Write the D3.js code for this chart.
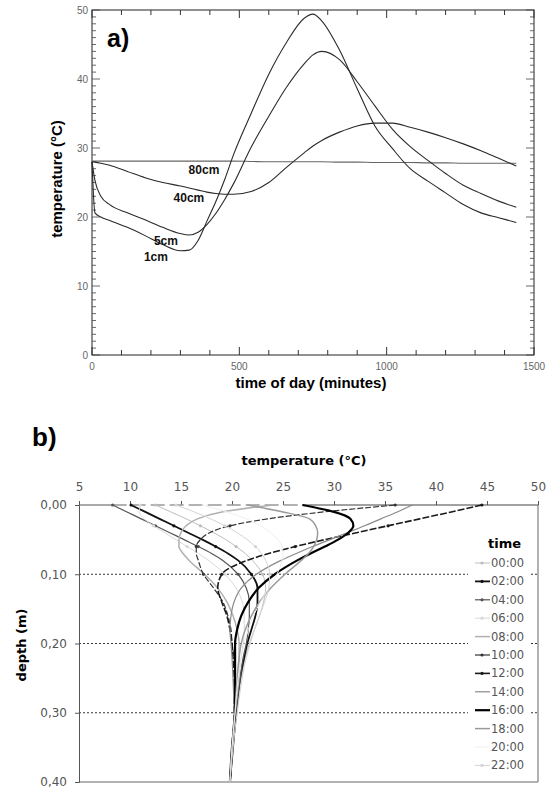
<!DOCTYPE html>
<html>
<head>
<meta charset="utf-8">
<script src="https://d3js.org/d3.v7.min.js"></script>
<style>
  body { margin: 0; background: #fff; }
  svg { display: block; }
</style>
</head>
<body>
<svg width="551" height="789"></svg>
<script>
// ---- panel a) : temperature vs time of day at 4 depths
var minutes = [0, 10, 30, 60, 120, 180, 240, 300, 330, 360, 390, 420, 450, 480, 540, 600, 660, 720, 750, 780, 840, 900, 960, 1020, 1080, 1140, 1200, 1260, 1320, 1380, 1440];
var temp1cm = [28.0, 20.6, 20.0, 19.5, 18.5, 17.3, 16.0, 15.1, 15.2, 16.6, 19.4, 22.2, 25.4, 29.0, 35.0, 40.7, 45.3, 48.8, 49.4, 48.4, 44.2, 38.6, 33.2, 29.9, 27.0, 25.2, 23.5, 21.8, 20.6, 19.9, 19.2];
var temp5cm = [28.0, 25.3, 23.0, 21.8, 20.6, 19.6, 18.5, 17.6, 17.4, 17.8, 18.9, 20.5, 22.5, 24.8, 30.1, 34.6, 38.8, 42.2, 43.5, 44.0, 42.8, 39.6, 36.1, 32.7, 30.2, 28.2, 26.3, 24.6, 23.4, 22.3, 21.4];
var temp40cm = [28.0, 27.95, 27.8, 27.5, 26.6, 25.7, 25.0, 24.5, 24.2, 23.9, 23.6, 23.4, 23.3, 23.3, 23.7, 25.0, 27.2, 29.3, 30.3, 31.1, 32.3, 33.2, 33.6, 33.6, 33.0, 32.3, 31.5, 30.6, 29.6, 28.5, 27.4];
var temp80cm = [28.1, 28.1, 28.1, 28.1, 28.1, 28.1, 28.1, 28.1, 28.1, 28.1, 28.1, 28.1, 28.1, 28.1, 28.05, 28.0, 28.0, 28.0, 28.0, 28.0, 27.95, 27.95, 27.9, 27.9, 27.9, 27.85, 27.85, 27.8, 27.8, 27.8, 27.8];
var depthNames = ["80cm", "40cm", "5cm", "1cm"];
var labelAt = [[380, 26.2], [329, 22.2], [251, 15.9], [217, 13.6]];

// ---- panel b) : temperature profiles with depth
var depth = [0, 0.01, 0.02, 0.03, 0.04, 0.05, 0.06, 0.07, 0.08, 0.10, 0.12, 0.14, 0.16, 0.18, 0.20, 0.22, 0.25, 0.30, 0.35, 0.40];
var hours = ["00:00", "02:00", "04:00", "06:00", "08:00", "10:00", "12:00", "14:00", "16:00", "18:00", "20:00", "22:00"];
var t00 = [12.5, 14.0, 15.5, 16.9, 18.2, 19.4, 20.4, 21.3, 22.0, 23.0, 23.3, 23.1, 22.7, 22.2, 21.7, 21.3, 20.9, 20.5, 20.1, 19.8];
var t02 = [10.1, 11.5, 12.9, 14.3, 15.7, 17.1, 18.4, 19.6, 20.6, 21.9, 22.5, 22.5, 22.3, 21.9, 21.5, 21.2, 20.8, 20.4, 20.1, 19.8];
var t04 = [8.3, 9.7, 11.1, 12.5, 13.9, 15.3, 16.7, 18.0, 19.1, 20.6, 21.4, 21.7, 21.7, 21.6, 21.4, 21.1, 20.8, 20.4, 20.1, 19.8];
var t06 = [11.0, 10.9, 11.4, 12.3, 13.4, 14.5, 15.6, 16.7, 17.7, 19.3, 20.4, 21.0, 21.2, 21.2, 21.1, 20.9, 20.7, 20.3, 20.0, 19.8];
var t08 = [24.0, 19.0, 16.6, 15.5, 15.0, 14.8, 14.8, 15.2, 15.8, 17.3, 18.6, 19.5, 20.1, 20.5, 20.7, 20.7, 20.6, 20.3, 20.0, 19.8];
var t10 = [36.0, 29.0, 23.5, 19.8, 17.8, 16.9, 16.5, 16.5, 16.7, 17.2, 18.2, 19.1, 19.6, 19.9, 20.0, 20.2, 20.3, 20.3, 20.0, 19.8];
var t12 = [44.5, 41.5, 38.4, 35.3, 32.2, 29.1, 26.2, 23.6, 21.5, 19.0, 18.6, 19.0, 19.5, 19.8, 20.0, 20.1, 20.2, 20.2, 20.0, 19.8];
var t14 = [37.7, 36.2, 34.6, 33.0, 31.3, 29.6, 27.9, 26.3, 24.8, 22.4, 20.9, 20.2, 19.9, 19.8, 19.9, 20.0, 20.1, 20.2, 20.0, 19.8];
var t16 = [26.9, 30.0, 31.6, 31.9, 31.4, 30.4, 29.1, 27.7, 26.4, 24.2, 22.6, 21.6, 20.9, 20.5, 20.3, 20.3, 20.3, 20.3, 20.0, 19.8];
var t18 = [21.5, 25.0, 27.6, 28.2, 28.4, 28.3, 28.0, 27.5, 26.8, 25.2, 23.8, 22.7, 21.9, 21.3, 20.9, 20.7, 20.5, 20.3, 20.0, 19.8];
var t20 = [17.0, 19.5, 21.4, 22.8, 23.8, 24.5, 24.9, 25.0, 24.9, 24.4, 23.6, 22.8, 22.1, 21.6, 21.2, 20.9, 20.6, 20.3, 20.0, 19.8];
var t22 = [14.5, 16.3, 17.9, 19.3, 20.5, 21.5, 22.3, 22.9, 23.3, 23.7, 23.6, 23.2, 22.7, 22.2, 21.8, 21.4, 21.0, 20.5, 20.1, 19.8];

var profiles = [t00, t02, t04, t06, t08, t10, t12, t14, t16, t18, t20, t22];
// line look per time
var styles = [
  {c: "#bdbdbd", w: 1,   dash: null,  mk: true},
  {c: "#111",    w: 1.8, dash: null,  mk: true},
  {c: "#555",    w: 1.2, dash: null,  mk: true},
  {c: "#d9d9d9", w: 1,   dash: null,  mk: true},
  {c: "#b0b0b0", w: 1.5, dash: null,  mk: false},
  {c: "#333",    w: 1.2, dash: "6,2", mk: true},
  {c: "#1a1a1a", w: 1.6, dash: "7,2", mk: true},
  {c: "#8a8a8a", w: 1.2, dash: null,  mk: false},
  {c: "#000",    w: 2.2, dash: null,  mk: false},
  {c: "#9a9a9a", w: 1.5, dash: null,  mk: false},
  {c: "#efefef", w: 1,   dash: null,  mk: false},
  {c: "#d4d4d4", w: 1,   dash: null,  mk: true}
];

var svg = d3.select("svg");

// ================= panel a =================
var xa = d3.scaleLinear().domain([0, 1500]).range([92, 534]);
var ya = d3.scaleLinear().domain([0, 50]).range([355, 10]);
var ga = svg.append("g");

ga.append("rect")
  .attr("x", xa(0)).attr("y", ya(50))
  .attr("width", xa(1500) - xa(0)).attr("height", ya(0) - ya(50))
  .attr("fill", "none").attr("stroke", "#222").attr("stroke-width", 1);

var xt = d3.range(0, 1501, 100);
ga.selectAll(".xtb").data(xt).join("line")
  .attr("x1", d => xa(d)).attr("x2", d => xa(d))
  .attr("y1", ya(0)).attr("y2", d => ya(0) - (d % 500 === 0 ? 8 : 5))
  .attr("stroke", "#333");
ga.selectAll(".xtt").data(xt).join("line")
  .attr("x1", d => xa(d)).attr("x2", d => xa(d))
  .attr("y1", ya(50)).attr("y2", d => ya(50) + (d % 500 === 0 ? 8 : 5))
  .attr("stroke", "#333");

var yt = d3.range(0, 51, 1);
ga.selectAll(".ytl").data(yt).join("line")
  .attr("y1", d => ya(d)).attr("y2", d => ya(d))
  .attr("x1", xa(0)).attr("x2", d => xa(0) + (d % 10 === 0 ? 8 : 4))
  .attr("stroke", "#444").attr("stroke-width", 0.8);
ga.selectAll(".ytr").data(yt).join("line")
  .attr("y1", d => ya(d)).attr("y2", d => ya(d))
  .attr("x1", xa(1500)).attr("x2", d => xa(1500) - (d % 10 === 0 ? 8 : 4))
  .attr("stroke", "#444").attr("stroke-width", 0.8);

ga.selectAll(".xl").data([0, 500, 1000, 1500]).join("text")
  .attr("x", d => xa(d)).attr("y", ya(0) + 15)
  .attr("text-anchor", "middle")
  .style("font", "10px 'Liberation Sans', Arial, sans-serif").attr("fill", "#666")
  .text(d => d);
ga.selectAll(".yl").data(d3.range(0, 51, 10)).join("text")
  .attr("x", xa(0) - 4).attr("y", d => ya(d) + 4)
  .attr("text-anchor", "end")
  .style("font", "10px 'Liberation Sans', Arial, sans-serif").attr("fill", "#666")
  .text(d => d);

var lineA = d3.line().x((d, i) => xa(minutes[i])).y(d => ya(d)).curve(d3.curveMonotoneX);
var seriesA = [temp80cm, temp40cm, temp5cm, temp1cm];
ga.selectAll(".ca").data(seriesA).join("path")
  .attr("d", lineA)
  .attr("fill", "none")
  .attr("stroke", (d, i) => i === 0 ? "#666" : "#2a2a2a")
  .attr("stroke-width", 1.1);

ga.selectAll(".la").data(depthNames).join("text")
  .attr("x", (d, i) => xa(labelAt[i][0])).attr("y", (d, i) => ya(labelAt[i][1]))
  .attr("text-anchor", "middle")
  .style("font", "bold 12px 'Liberation Sans', Arial, sans-serif").attr("fill", "#111")
  .text(d => d);

ga.append("text").attr("x", 107).attr("y", 47)
  .style("font", "bold 25px 'Liberation Sans', Arial, sans-serif").text("a)");
ga.append("text").attr("x", 311).attr("y", 388).attr("text-anchor", "middle")
  .style("font", "bold 15px 'Liberation Sans', Arial, sans-serif").text("time of day (minutes)");
ga.append("text").attr("transform", "translate(62,179) rotate(-90)").attr("text-anchor", "middle")
  .style("font", "bold 15px 'Liberation Sans', Arial, sans-serif").text("temperature (°C)");

// ================= panel b =================
var xb = d3.scaleLinear().domain([5, 50]).range([79, 538]);
var yb = d3.scaleLinear().domain([0, 0.4]).range([505, 782]);
var gb = svg.append("g");
var tickFont = "12px 'DejaVu Sans', sans-serif";

// dotted grid
gb.selectAll(".grid").data([0.1, 0.2, 0.3]).join("line")
  .attr("x1", xb(5)).attr("x2", xb(50))
  .attr("y1", d => yb(d)).attr("y2", d => yb(d))
  .attr("stroke", "#333").attr("stroke-dasharray", "2,2");

// frame
gb.append("line").attr("x1", xb(50)).attr("x2", xb(50)).attr("y1", yb(0)).attr("y2", yb(0.4)).attr("stroke", "#666");
gb.append("line").attr("x1", xb(5)).attr("x2", xb(50)).attr("y1", yb(0.4)).attr("y2", yb(0.4)).attr("stroke", "#666");

var topAx = gb.append("g").attr("transform", "translate(0," + yb(0) + ")")
  .call(d3.axisTop(xb).tickValues(d3.range(5, 51, 5)).tickSize(4).tickPadding(10));
var leftAx = gb.append("g").attr("transform", "translate(" + xb(5) + ",0)")
  .call(d3.axisLeft(yb).tickValues([0, 0.1, 0.2, 0.3, 0.4]).tickSize(4).tickPadding(8)
    .tickFormat(d => d.toFixed(2).replace(".", ",")));
[topAx, leftAx].forEach(function (ax) {
  ax.selectAll("path").attr("stroke", "#555");
  ax.selectAll("line").attr("stroke", "#555");
  ax.selectAll("text").style("font", tickFont).attr("fill", "#555");
});
// the top edge looks broken/dashed between the coldest and the 16:00 surface values
topAx.select("path").remove();
var cold = d3.min(profiles, p => p[0]), warm = t16[0];
gb.append("line").attr("x1", xb(5)).attr("x2", xb(cold)).attr("y1", yb(0)).attr("y2", yb(0)).attr("stroke", "#555");
gb.append("line").attr("x1", xb(cold)).attr("x2", xb(warm)).attr("y1", yb(0)).attr("y2", yb(0))
  .attr("stroke", "#999").attr("stroke-width", 1.4).attr("stroke-dasharray", "14,5");
gb.append("line").attr("x1", xb(warm)).attr("x2", xb(50)).attr("y1", yb(0)).attr("y2", yb(0)).attr("stroke", "#444");

var lineB = d3.line().x(d => xb(d)).y((d, i) => yb(depth[i])).curve(d3.curveMonotoneY);
var prof = gb.selectAll(".prof").data(profiles).join("g");
prof.append("path")
  .attr("d", lineB)
  .attr("fill", "none")
  .attr("stroke", (d, i) => styles[i].c)
  .attr("stroke-width", (d, i) => styles[i].w)
  .attr("stroke-dasharray", (d, i) => styles[i].dash);
prof.each(function (p, k) {
  if (!styles[k].mk) return;
  d3.select(this).selectAll("circle").data(p.filter((v, i) => i % 3 === 0 && i < 12)).join("circle")
    .attr("cx", d => xb(d))
    .attr("cy", (d, i) => yb(depth[i * 3]))
    .attr("r", 1.6).attr("fill", styles[k].c);
});

// legend
var lg = gb.append("g");
lg.append("rect").attr("x", 468).attr("y", 530).attr("width", 62).attr("height", 245).attr("fill", "#fff");
lg.append("text").attr("x", 488).attr("y", 548)
  .style("font", "bold 13px 'DejaVu Sans', sans-serif").text("time");
var item = lg.selectAll(".it").data(hours).join("g")
  .attr("transform", (d, i) => "translate(0," + (563 + i * 18.4) + ")");
item.append("line").attr("x1", 475).attr("x2", 490)
  .attr("stroke", (d, i) => styles[i].c).attr("stroke-width", (d, i) => styles[i].w);
item.filter((d, i) => styles[i].mk).append("circle")
  .attr("cx", 482).attr("r", 1.6).attr("fill", (d, i) => styles[hours.indexOf(d)].c);
item.append("text").attr("x", 491).attr("y", 4)
  .style("font", "11.5px 'DejaVu Sans', sans-serif").attr("fill", "#555")
  .text(d => d);

gb.append("text").attr("x", 32).attr("y", 446)
  .style("font", "bold 26px 'Liberation Sans', Arial, sans-serif").text("b)");
gb.append("text").attr("x", 304).attr("y", 465).attr("text-anchor", "middle")
  .style("font", "bold 13px 'DejaVu Sans', sans-serif").text("temperature (°C)");
gb.append("text").attr("transform", "translate(26,645) rotate(-90)").attr("text-anchor", "middle")
  .style("font", "bold 13px 'DejaVu Sans', sans-serif").text("depth (m)");
</script>
</body>
</html>
